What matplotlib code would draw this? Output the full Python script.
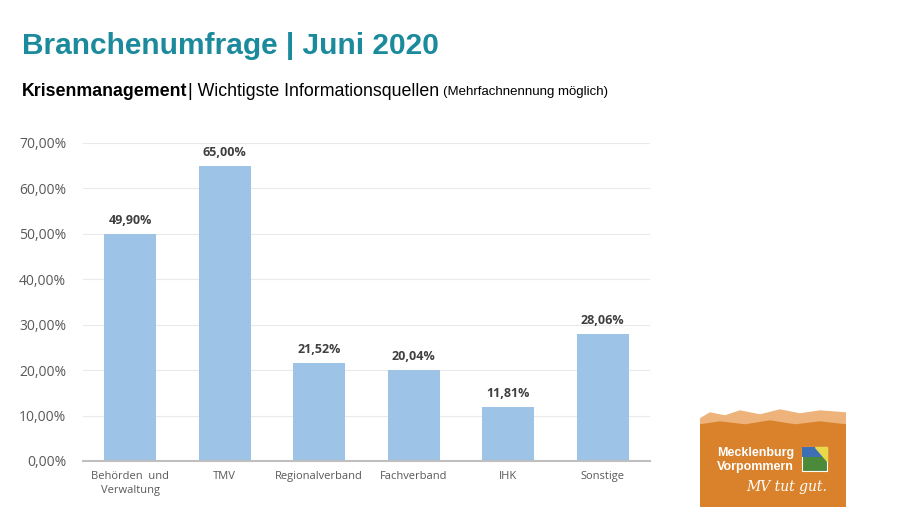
import matplotlib
matplotlib.use("Agg")
import matplotlib.pyplot as plt
from matplotlib.patches import Rectangle, Polygon

categories = ["Behörden  und\nVerwaltung", "TMV", "Regionalverband", "Fachverband", "IHK", "Sonstige"]
values = [49.90, 65.00, 21.52, 20.04, 11.81, 28.06]
yticks = [0, 10, 20, 30, 40, 50, 60, 70]

def de_pct(v):
    return f"{v:.2f}".replace(".", ",") + "%"

fig = plt.figure(figsize=(9, 5.07), dpi=100)
fig.patch.set_facecolor("white")

ax = fig.add_axes([83/900, 1-461/507, (650-83)/900, (461-143)/507])
x = list(range(len(categories)))
bars = ax.bar(x, values, width=0.55, color="#9DC3E6", zorder=2)
ax.set_xlim(-0.5, len(categories)-0.5)
ax.set_ylim(0, 70)
ax.set_yticks(yticks)
ax.set_yticklabels([de_pct(v) for v in yticks], fontsize=10, color="#595959", family="Open Sans")
ax.set_xticks(x)
ax.set_xticklabels(categories, fontsize=8, color="#595959", family="Open Sans", linespacing=1.4)
ax.tick_params(axis="both", length=0)
ax.tick_params(axis="y", pad=12)
ax.tick_params(axis="x", pad=7)
ax.grid(axis="y", color="#EAEAEA", linewidth=0.8, zorder=0)
for s in ["top", "right", "left"]:
    ax.spines[s].set_visible(False)
ax.spines["bottom"].set_color("#BFBFBF")
ax.spines["bottom"].set_linewidth(1.5)
ax.spines["bottom"].set_zorder(3)

for xi, v in zip(x, values):
    ax.annotate(de_pct(v), (xi, v), xytext=(0, 5), textcoords="offset points",
                ha="center", va="bottom", fontsize=9, fontweight="bold",
                color="#404040", family="Open Sans")

# Titles
fig.text(22/900, 1-46/507, "Branchenumfrage | Juni 2020", fontsize=21.5, fontweight="bold",
         color="#1B8A9C", family="Liberation Sans", va="center", ha="left")
t1 = fig.text(22/900, 1-91/507, "Krisenmanagement", fontsize=12.8, fontweight="bold",
              color="black", family="Liberation Sans", va="center", ha="left")
fig.canvas.draw()
r = fig.canvas.get_renderer()
bb = t1.get_window_extent(r)
t2 = fig.text(bb.x1/900, 1-91/507, "| Wichtigste Informationsquellen", fontsize=12.8,
              color="black", family="Liberation Sans", va="center", ha="left")
bb2 = t2.get_window_extent(r)
fig.text(bb2.x1/900 + 4/900, 1-92/507, "(Mehrfachnennung möglich)", fontsize=9.5,
         color="black", family="Liberation Sans", va="center", ha="left")

# Logo
lax = fig.add_axes([700/900, 0, 146/900, 100/507])
lax.set_xlim(0, 146)
lax.set_ylim(0, 100)
lax.axis("off")
lax.add_patch(Rectangle((0, 0), 146, 86, color="#D9822B"))
lax.add_patch(Polygon([(0, 88), (10, 94), (25, 91), (40, 96), (60, 92), (80, 97), (100, 93), (120, 96), (146, 94), (146, 82), (0, 82)],
                      color="#EDB37A"))
lax.add_patch(Polygon([(0, 82), (20, 85), (45, 82), (70, 86), (95, 82), (120, 85), (146, 82), (146, 78), (0, 78)],
                      color="#D9822B"))
lax.text(17, 54, "Mecklenburg", color="white", fontsize=9, fontweight="bold", family="Liberation Sans", va="center")
lax.text(17, 40, "Vorpommern", color="white", fontsize=9, fontweight="bold", family="Liberation Sans", va="center")
lax.text(46, 20, "MV tut gut.", color="white", fontsize=10, style="italic", family="DejaVu Serif", va="center")
lax.add_patch(Rectangle((102, 36), 25, 24, facecolor="#4A8A3A", edgecolor="white", linewidth=0.8))
lax.add_patch(Rectangle((102, 50), 25, 10, facecolor="#3E6FB5", edgecolor="none"))
lax.add_patch(Polygon([(115, 60), (127, 60), (127, 46)], color="#E8D84A"))

fig.savefig("out.png", dpi=100)
